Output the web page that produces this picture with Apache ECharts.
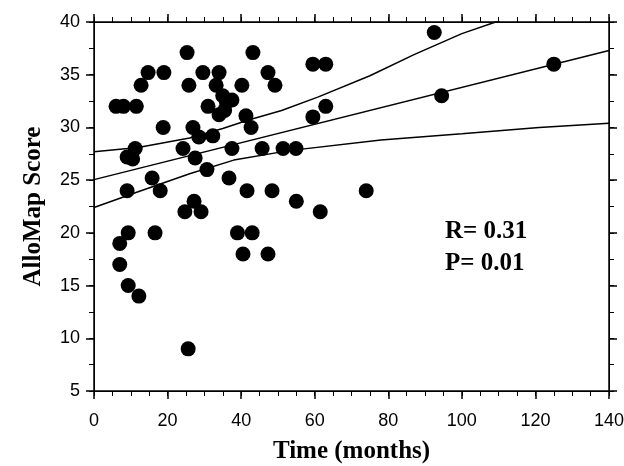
<!DOCTYPE html>
<html>
<head>
<meta charset="utf-8">
<script src="https://cdn.jsdelivr.net/npm/echarts@6/dist/echarts.min.js"></script>
<style>
html,body{margin:0;padding:0;background:#fff;}
#chart{width:624px;height:466px;}
</style>
</head>
<body>
<div id="chart"></div>
<script>
// Scatter data (time in months, AlloMap score)
const timeMonths = [6, 8, 11.5, 12.8, 14.7, 19, 25.3, 25.8, 29.6, 34, 33.2, 40.2, 43.2, 47.3, 49.2,
  31, 35, 36, 37.5, 34, 35.5, 41.3, 42.7, 18.8, 26.9, 28.5, 32.3,
  11.2, 9, 10.5, 24.2, 27.5, 37.5, 45.7, 51.4, 54.9,
  30.7, 36.7, 15.8, 9, 18, 41.6, 48.4, 27.2, 24.7, 29.1,
  9.3, 16.6, 7, 7, 9.3, 12.2, 25.6, 39, 43, 40.5, 47.3,
  59.5, 63, 63, 59.5, 74, 55, 61.5, 92.5, 94.5, 125];
const alloMapScore = [32, 32, 32, 34, 35.2, 35.2, 37.1, 34, 35.2, 35.2, 34, 34, 37.1, 35.2, 34,
  32, 33, 32.4, 32.6, 31.2, 31.6, 31.1, 30, 30, 30, 29.1, 29.2,
  28, 27.2, 27, 28, 27.1, 28, 28, 28, 28,
  26, 25.2, 25.2, 24, 24, 24, 24, 23, 22, 22,
  20, 20, 19, 17, 15, 14, 9, 20, 20, 18, 18,
  36, 36, 32, 31, 24, 23, 22, 39, 33, 36];

// Regression line and confidence band curves
const fitX = [0, 140];
const fitY = [25.05, 37.3];
const upperX = [0, 12, 26, 35, 42, 51, 61, 75, 87, 100, 110, 112];
const upperY = [27.7, 28.1, 29, 29.9, 30.7, 31.6, 32.9, 34.9, 36.9, 38.9, 40.1, 40.4];
const lowerX = [0, 12, 26, 38, 53, 78, 100, 121, 140];
const lowerY = [22.4, 23.9, 25.6, 26.9, 27.8, 28.8, 29.4, 30.0, 30.4];

// Axis ticks
const xTicks = {min: 0, max: 140, step: 20, minorStep: 5};
const yTicks = {min: 5, max: 40, step: 5, minorStep: 2.5};

const zip = (a, b) => a.map((v, i) => [v, b[i]]);

const chart = echarts.init(document.getElementById('chart'), null, {renderer: 'canvas'});

const tickFont = {fontFamily: 'Liberation Sans, Arial, sans-serif', fontSize: 18, color: '#000'};
const titleFont = {fontFamily: 'Liberation Serif, Times New Roman, serif', fontSize: 25, fontWeight: 'bold', color: '#000'};
const lineSt = {color: '#000', width: 1.5};
const gridRect = {left: 94, right: 15, top: 22, bottom: 75, containLabel: false, outerBoundsMode: 'none'};

function xAx(pos, labels, minor) {
  return {
    type: 'value', gridIndex: minor ? 1 : 0, position: pos, min: xTicks.min, max: xTicks.max,
    interval: minor ? xTicks.minorStep : xTicks.step,
    axisLine: {show: true, onZero: false, lineStyle: minor ? {color: '#000', width: 1} : lineSt},
    axisTick: {show: true, inside: false, length: minor ? 5 : 8, lineStyle: {color: '#000', width: minor ? 1 : 1.5, opacity: 1}},
    splitLine: {show: false},
    axisLabel: labels ? Object.assign({margin: 21}, tickFont) : {show: false},
    name: labels ? 'Time (months)' : '',
    nameLocation: 'middle', nameGap: 48, nameTextStyle: titleFont
  };
}
function yAx(pos, labels, minor) {
  return {
    type: 'value', gridIndex: minor ? 1 : 0, position: pos, min: yTicks.min, max: yTicks.max,
    interval: minor ? yTicks.minorStep : yTicks.step,
    axisLine: {show: true, onZero: false, lineStyle: minor ? {color: '#000', width: 1} : lineSt},
    axisTick: {show: true, inside: false, length: minor ? 5 : 8, lineStyle: {color: '#000', width: minor ? 1 : 1.5, opacity: 1}},
    splitLine: {show: false},
    axisLabel: labels ? Object.assign({margin: 14}, tickFont) : {show: false},
    name: labels ? 'AlloMap Score' : '',
    nameLocation: 'middle', nameGap: 48, nameRotate: 90, nameTextStyle: titleFont
  };
}

chart.setOption({
  animation: false,
  backgroundColor: '#fff',
  grid: [Object.assign({}, gridRect), Object.assign({}, gridRect)],
  xAxis: [xAx('bottom', true, false), xAx('top', false, false), xAx('bottom', false, true), xAx('top', false, true)],
  yAxis: [yAx('left', true, false), yAx('right', false, false), yAx('left', false, true), yAx('right', false, true)],
  series: [
    {type: 'line', data: zip(fitX, fitY), showSymbol: false, lineStyle: lineSt, clip: true, z: 2},
    {type: 'line', data: zip(upperX, upperY), showSymbol: false, lineStyle: lineSt, clip: true, z: 2},
    {type: 'line', data: zip(lowerX, lowerY), showSymbol: false, lineStyle: lineSt, clip: true, z: 2},
    {type: 'scatter', data: zip(timeMonths, alloMapScore), symbol: 'circle', symbolSize: 15,
     itemStyle: {color: '#000', opacity: 1}, z: 3}
  ],
  graphic: [
    {type: 'text', left: 445, top: 219, style: {text: 'R= 0.31', font: 'bold 25px "Liberation Serif", serif', fill: '#000'}},
    {type: 'text', left: 445, top: 251, style: {text: 'P= 0.01', font: 'bold 25px "Liberation Serif", serif', fill: '#000'}}
  ]
});
</script>
</body>
</html>
